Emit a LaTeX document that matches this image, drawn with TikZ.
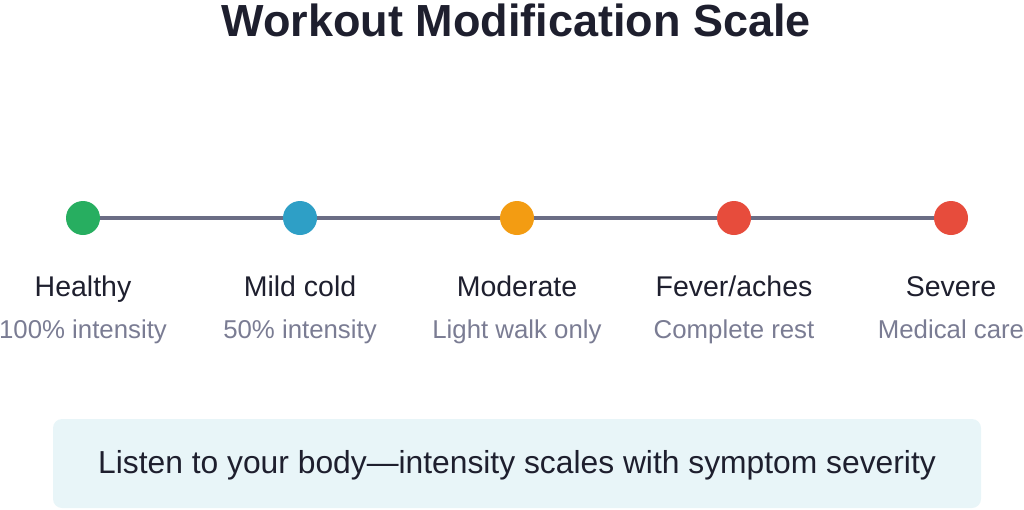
\documentclass[tikz,border=0pt]{standalone}
\usepackage{fontspec}
\setmainfont{Liberation Sans}
\definecolor{titlec}{HTML}{1E1F2E}
\definecolor{subc}{HTML}{7A7C93}
\definecolor{linec}{HTML}{6B6D85}
\definecolor{cgreen}{HTML}{27AE60}
\definecolor{cblue}{HTML}{2E9FC6}
\definecolor{corange}{HTML}{F39C12}
\definecolor{cred}{HTML}{E74C3C}
\definecolor{boxc}{HTML}{E8F5F8}
\tikzset{
  dot/.style={circle, minimum size=34pt, inner sep=0pt, draw=none},
  lab/.style={text=titlec, font=\fontsize{28.5}{32}\selectfont, anchor=base, inner sep=0pt},
  sublab/.style={text=subc, font=\fontsize{25.8}{29}\selectfont, anchor=base, inner sep=0pt},
}
\begin{document}
\begin{tikzpicture}[x=1pt,y=-1pt]
\useasboundingbox (0,0) rectangle (1024,509);
\node[text=titlec, font=\bfseries\fontsize{45}{50}\selectfont, anchor=base, inner sep=0pt] (title) at (516,36) {Workout Modification Scale};
\coordinate (L) at (83,218);
\coordinate (R) at (951,218);
\draw[linec, line width=3.5pt] (L) -- (R);
\node[dot, fill=cgreen] (d1) at (83,218) {};
\node[dot, fill=cblue] (d2) at (300,218) {};
\node[dot, fill=corange] (d3) at (517,218) {};
\node[dot, fill=cred] (d4) at (734,218) {};
\node[dot, fill=cred] (d5) at (951,218) {};
\node[lab] (l1) at (83,296) {Healthy};
\node[lab] (l2) at (300,296) {Mild cold};
\node[lab] (l3) at (517,296) {Moderate};
\node[lab] (l4) at (734,296) {Fever/aches};
\node[lab] (l5) at (951,296) {Severe};
\node[sublab] (s1) at (83,338) {100\% intensity};
\node[sublab] (s2) at (300,338) {50\% intensity};
\node[sublab] (s3) at (517,338) {Light walk only};
\node[sublab] (s4) at (734,338) {Complete rest};
\node[sublab] (s5) at (951,338) {Medical care};
\node[fill=boxc, rounded corners=9pt, minimum width=928pt, minimum height=89pt, inner sep=0pt] (box) at (517,463.5) {};
\node[text=titlec, font=\fontsize{31.8}{35}\selectfont, anchor=base, inner sep=0pt] (note) at (517,473) {Listen to your body—intensity scales with symptom severity};
\end{tikzpicture}
\end{document}
